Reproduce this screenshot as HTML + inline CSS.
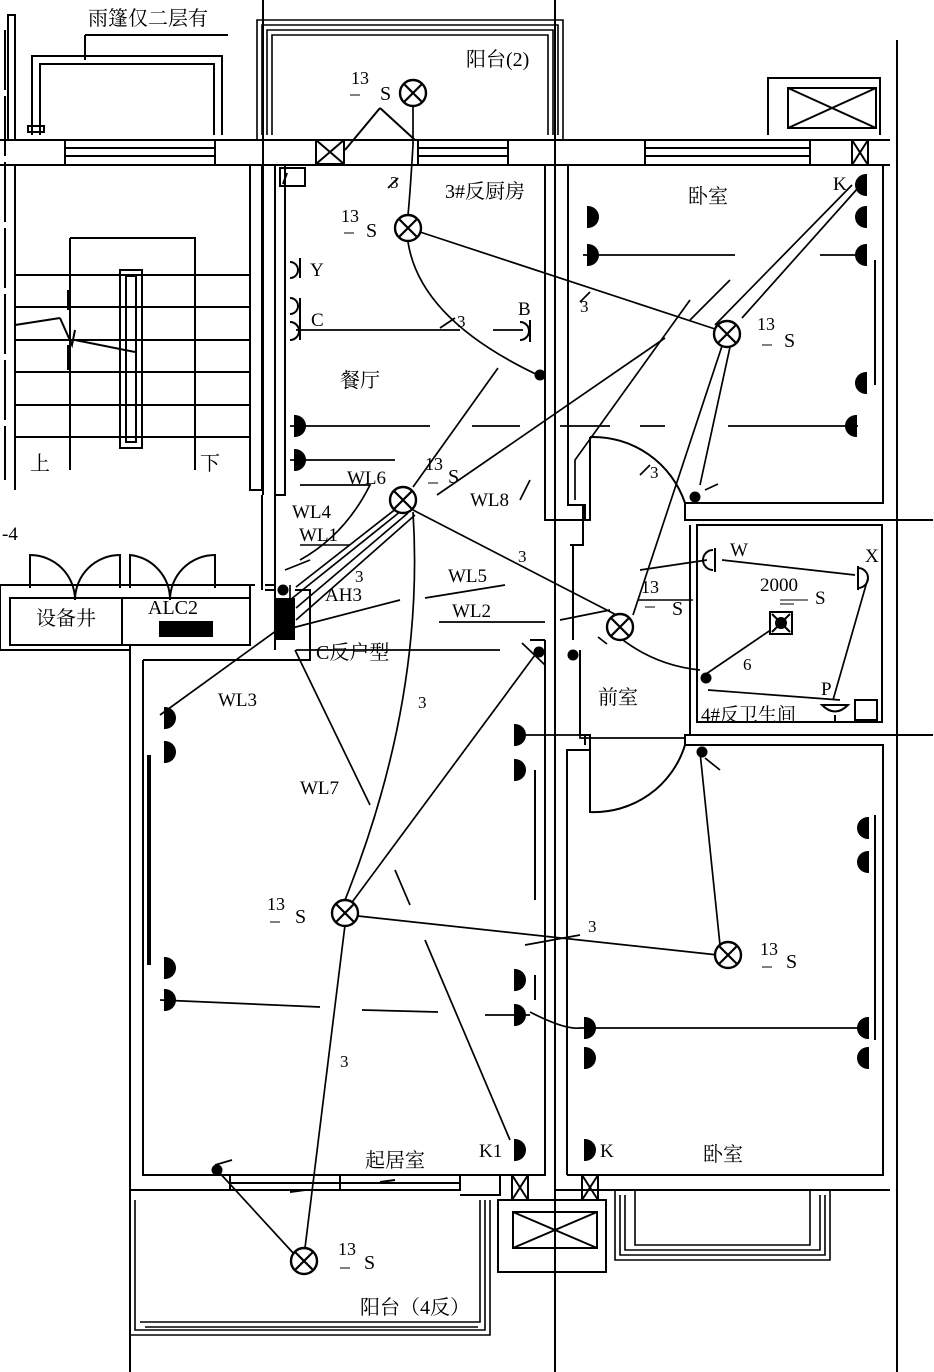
<!DOCTYPE html>
<html><head><meta charset="utf-8"><style>
html,body{margin:0;padding:0;background:#fff}
svg{display:block}
text{font-family:"Liberation Serif","Noto Serif CJK SC",serif;fill:#000}
</style></head><body>
<svg width="934" height="1372" viewBox="0 0 934 1372" xmlns="http://www.w3.org/2000/svg">
<defs>
<g id="lamp"><circle r="13" fill="#fff" stroke="#000" stroke-width="2.4"/><path d="M-9,-9L9,9M9,-9L-9,9" stroke="#000" stroke-width="2.2"/></g>
<g id="fr"><path d="M0,-11A11,11 0 0 1 0,11Z" fill="#000"/><path d="M0,-11V11" stroke="#000" stroke-width="2"/></g>
<g id="fl"><path d="M0,-11A11,11 0 0 0 0,11Z" fill="#000"/><path d="M0,-11V11" stroke="#000" stroke-width="2"/></g>
<g id="sw"><circle r="5.5" fill="#000"/></g>
</defs>
<g stroke="#000" stroke-width="2" fill="none">
<line x1="263" y1="0" x2="263" y2="495"/>
<line x1="555" y1="0" x2="555" y2="1372"/>
<line x1="897" y1="40" x2="897" y2="1372"/>
<line x1="130" y1="1195" x2="130" y2="1372"/>
<line x1="5" y1="30" x2="5" y2="480" stroke-dasharray="60,6"/>
<path d="M85,35H228"/>
<path d="M85,35V60"/>
<path d="M32,135V56H222V135M40,135V64H214V135"/>
<rect x="28" y="126" width="16" height="6"/>
<path d="M8,140V15H15V140"/>
<path d="M257,140V20H563V140M262,135V25H558V135M267,135V30H553V135M272,135V35H548V135" stroke-width="1.6"/>
<path d="M768,135V78H880V135"/><rect x="788" y="88" width="88" height="40"/><path d="M788,88L876,128M876,88L788,128"/>
<path d="M0,140H890M0,165H890" />
<path d="M65,140V165M215,140V165M65,148H215M65,156H215"/>
<path d="M645,140V165M810,140V165M645,148H810M645,156H810"/>
<path d="M418,140V165M508,140V165M418,148H508M418,156H508"/>
<rect x="316" y="140" width="28" height="24"/><path d="M316,140L344,164M344,140L316,164"/>
<rect x="852" y="140" width="16" height="25"/><path d="M852,140L868,165M868,140L852,165"/>
<path d="M15,165H250V490H262V165"/>
<path d="M15,165V490"/>
<path d="M70,238H195V470M70,238V470"/>
<rect x="120" y="270" width="22" height="178"/><rect x="126" y="276" width="10" height="166"/>
<path d="M15,275H250M15,307H250M15,340H250M15,372H250M15,405H250M15,437H250"/>
<path d="M15,325L60,318M75,340L135,352M60,318L72,345L75,330"/>
<path d="M68,290V310M68,345V370"/>
<path d="M30,588V555A45,45 0 0 1 75,600M120,588V555A-45,45 0 0 0 75,600"/>
<path d="M130,588V555A45,45 0 0 1 170,600M215,588V555A45,45 0 0 0 170,600"/>
<path d="M0,585H255M10,598H250V645H10Z M122,598V645"/>
<rect x="160" y="622" width="52" height="14" fill="#000"/>
<path d="M0,585V650H130"/>
<path d="M250,585V605M262,495V590"/>
<path d="M275,165V590H265M275,165H545V520H585V505H570"/>
<path d="M285,165V495H275M285,245V480"/>
<rect x="280" y="168" width="25" height="18"/>
<path d="M287,173L283,184"/>
<path d="M380,108L345,150M380,108L415,140"/>
<path d="M568,165V505H583V520H590V490M583,505H570"/>
<path d="M568,165H883V503H685V520H933M883,165V503"/>
<path d="M583,520V545H570"/>
<path d="M265,585H275V650M295,590H310V650"/>
<path d="M143,660H310V650"/>
<path d="M130,645V1195"/>
<path d="M143,660V1175H460V1190H130"/>
<path d="M150,755V965"/>
<path d="M545,640V1175H500M530,640H545"/>
<path d="M535,770V900M535,975V1000"/>
<path d="M573,545V640"/>
<path d="M580,650V735H590V750H567V1175M567,1175H883V745H685V735H933"/>
<path d="M883,745V1175"/>
<path d="M697,525H882V722H697Z M690,525V735M585,735V745"/>
<path d="M875,260V385M875,815V1040M148,755V965"/>
<path d="M590,437A97,97 0 0 1 685,503"/>
<path d="M590,437V505"/>
<path d="M685,745A95,95 0 0 1 590,812V745"/>
<path d="M230,1175H340V1190H230Z"/>
<path d="M230,1183H340"/>
<path d="M340,1183H460"/>
<path d="M460,1175H500V1195H460"/>
<rect x="512" y="1175" width="16" height="25"/><path d="M512,1175L528,1200M528,1175L512,1200"/>
<rect x="582" y="1175" width="16" height="25"/><path d="M582,1175L598,1200M598,1175L582,1200"/>
<rect x="498" y="1200" width="108" height="72"/><rect x="513" y="1212" width="84" height="36"/><path d="M513,1212L597,1248M597,1212L513,1248"/>
<path d="M555,1190H890"/>
<path d="M615,1190V1260H830V1190M620,1195V1255H825V1195M625,1195V1250H820V1195M635,1190V1245H810V1190" stroke-width="1.6"/>
<path d="M130,1195V1335H490V1200M135,1200V1330H485V1200M140,1322H480V1200M145,1327H478" stroke-width="1.6"/>
<path d="M290,1192L305,1190M380,1182L395,1180"/>
</g>
<g stroke="#000" stroke-width="1.7" fill="none">
<path d="M413,106V145M413,145Q410,195 408,215"/>
<path d="M388,188L398,178"/>
<path d="M420,232L715,329"/>
<path d="M408,242Q420,320 540,376"/>
<path d="M440,328L455,318M580,302L590,292M640,475L650,465"/>
<path d="M296,330H460M493,330H523"/>
<path d="M290,426H430M472,426H520M560,426H610M640,426H665M728,426H858"/>
<path d="M290,460H395"/>
<path d="M583,255H735M820,255H858"/>
<path d="M715,325L852,185M742,318L858,188"/>
<path d="M690,320L730,280"/>
<path d="M730,347L700,485M722,346L633,615"/>
<path d="M690,300L575,460V500"/>
<path d="M413,487L498,368"/>
<path d="M437,495L665,338"/>
<path d="M296,587L397,508M290,600L401,511M296,608L408,513M296,620L415,515"/>
<path d="M292,628L400,600M296,650L500,650"/>
<path d="M425,598L505,585M439,622H545M560,620L610,610"/>
<path d="M413,510L630,622"/>
<path d="M413,512Q425,700 345,900"/>
<path d="M350,905L535,655"/>
<path d="M345,925L305,1248"/>
<path d="M358,916L718,955"/>
<path d="M217,1170L295,1255"/>
<path d="M295,650L370,805"/>
<path d="M395,870L410,905M425,940L510,1140"/>
<path d="M160,715L280,628"/>
<path d="M160,1000L320,1007M362,1010L438,1012M485,1015L530,1015"/>
<path d="M530,1012Q565,1030 580,1028H858"/>
<path d="M520,735H580V738H685"/>
<path d="M700,752L720,945"/>
<path d="M612,631Q650,665 700,670"/>
<path d="M706,674L778,625M708,690L840,700"/>
<path d="M640,570L707,560M722,560L855,575M833,700L868,578"/>
<path d="M520,500L530,480"/>
<path d="M285,570L310,560"/>
<path d="M525,945L580,935"/>
<path d="M598,637L607,644"/>
<path d="M545,665L522,643"/>
<path d="M705,490L718,484"/>
<path d="M705,758L720,770"/>
<path d="M215,1165L232,1160"/>
<path d="M300,485H370Q345,535 300,560"/>
<path d="M290,608V585"/>
</g>
<rect x="275" y="598" width="20" height="42" fill="#000"/>
<g>
<use href="#sw" x="283" y="590"/><use href="#sw" x="540" y="375"/><use href="#sw" x="695" y="497"/>
<use href="#sw" x="539" y="652"/><use href="#sw" x="573" y="655"/><use href="#sw" x="702" y="752"/>
<use href="#sw" x="217" y="1170"/><use href="#sw" x="706" y="678"/>
</g>
<g>
<use href="#lamp" x="413" y="93"/><use href="#lamp" x="408" y="228"/><use href="#lamp" x="727" y="334"/>
<use href="#lamp" x="403" y="500"/><use href="#lamp" x="620" y="627"/><use href="#lamp" x="345" y="913"/>
<use href="#lamp" x="728" y="955"/><use href="#lamp" x="304" y="1261"/>
</g>
<g>
<use href="#fr" x="295" y="426"/><use href="#fr" x="295" y="460"/>
<use href="#fr" x="588" y="217"/><use href="#fr" x="588" y="255"/>
<use href="#fl" x="866" y="185"/><use href="#fl" x="866" y="217"/><use href="#fl" x="866" y="255"/><use href="#fl" x="866" y="383"/><use href="#fl" x="856" y="426"/>
<use href="#fr" x="165" y="718"/><use href="#fr" x="165" y="752"/><use href="#fr" x="165" y="968"/><use href="#fr" x="165" y="1000"/>
<use href="#fr" x="515" y="735"/><use href="#fr" x="515" y="770"/><use href="#fr" x="515" y="980"/><use href="#fr" x="515" y="1015"/><use href="#fr" x="515" y="1150"/>
<use href="#fr" x="585" y="1028"/><use href="#fr" x="585" y="1058"/><use href="#fr" x="585" y="1150"/>
<use href="#fl" x="868" y="828"/><use href="#fl" x="868" y="862"/><use href="#fl" x="868" y="1028"/><use href="#fl" x="868" y="1058"/>
</g>
<g stroke="#000" stroke-width="2" fill="none">
<path d="M300,258V278M300,298V340M530,320V342M715,548V572M858,566V590"/>
<path d="M290,262A8,8 0 0 1 290,278M290,298A8,8 0 0 1 290,314M290,322A8,8 0 0 1 290,340M520,322A8,8 0 0 1 520,340M713,550A8,8 0 0 0 713,570M858,568A8,8 0 0 1 858,588"/>
<rect x="770" y="612" width="22" height="22" fill="#fff"/><circle cx="781" cy="623" r="5" fill="#000"/><path d="M772,614L790,632M790,614L772,632"/>
<path d="M822,705Q835,718 848,705Z M835,715V722"/>
<rect x="855" y="700" width="22" height="20"/>
</g>
<g font-size="20">
<text x="88" y="25">雨篷仅二层有</text>
<text x="466" y="66">阳台(2)</text>
<text x="445" y="198">3#反厨房</text>
<text x="688" y="203">卧室</text>
<text x="340" y="387">餐厅</text>
<text x="30" y="470">上</text><text x="200" y="470">下</text>
<text x="36" y="625">设备井</text>
<text x="148" y="614">ALC2</text>
<text x="316" y="659">C反户型</text>
<text x="598" y="704">前室</text>
<text x="701" y="721" font-size="19">4#反卫生间</text>
<text x="365" y="1167">起居室</text>
<text x="703" y="1161">卧室</text>
<text x="360" y="1314">阳台（4反）</text>
</g>
<g font-size="19">
<text x="347" y="484">WL6</text>
<text x="292" y="518">WL4</text>
<text x="299" y="541">WL1</text>
<text x="325" y="601">AH3</text>
<text x="470" y="506">WL8</text>
<text x="448" y="582">WL5</text>
<text x="452" y="617">WL2</text>
<text x="218" y="706">WL3</text>
<text x="300" y="794">WL7</text>
<text x="311" y="326">C</text><text x="310" y="276">Y</text><text x="518" y="315">B</text>
<text x="833" y="190">K</text><text x="730" y="556">W</text><text x="865" y="562">X</text><text x="821" y="695">P</text>
<text x="479" y="1157">K1</text><text x="600" y="1157">K</text>
<text x="760" y="591">2000</text><text x="815" y="604">S</text>
<text x="2" y="540">-4</text>
</g>
<g font-size="17">
<text x="390" y="188">3</text><text x="457" y="327">3</text><text x="580" y="312">3</text><text x="650" y="478">3</text>
<text x="518" y="562">3</text><text x="355" y="582">3</text><text x="418" y="708">3</text><text x="340" y="1067">3</text>
<text x="588" y="932">3</text><text x="743" y="670">6</text>
</g>
<g font-size="18">
<text x="351" y="84">13</text><text x="380" y="100" font-size="20">S</text><path d="M350,95h10" stroke="#000"/>
<text x="341" y="222">13</text><text x="366" y="237" font-size="20">S</text><path d="M344,233h10" stroke="#000"/>
<text x="757" y="330">13</text><text x="784" y="347" font-size="20">S</text><path d="M762,345h10" stroke="#000"/>
<text x="425" y="470">13</text><text x="448" y="483" font-size="20">S</text><path d="M428,483h10" stroke="#000"/>
<text x="641" y="593">13</text><text x="672" y="615" font-size="20">S</text><path d="M645,607h10" stroke="#000"/>
<text x="267" y="910">13</text><text x="295" y="923" font-size="20">S</text><path d="M270,922h10" stroke="#000"/>
<text x="760" y="955">13</text><text x="786" y="968" font-size="20">S</text><path d="M762,967h10" stroke="#000"/>
<text x="338" y="1255">13</text><text x="364" y="1269" font-size="20">S</text><path d="M340,1268h10" stroke="#000"/>
</g>
<path d="M780,600h28M780,604h14" stroke="#000"/>
<path d="M300,545h50M638,600h55" stroke="#000" stroke-width="1.5"/>
</svg>
</body></html>
